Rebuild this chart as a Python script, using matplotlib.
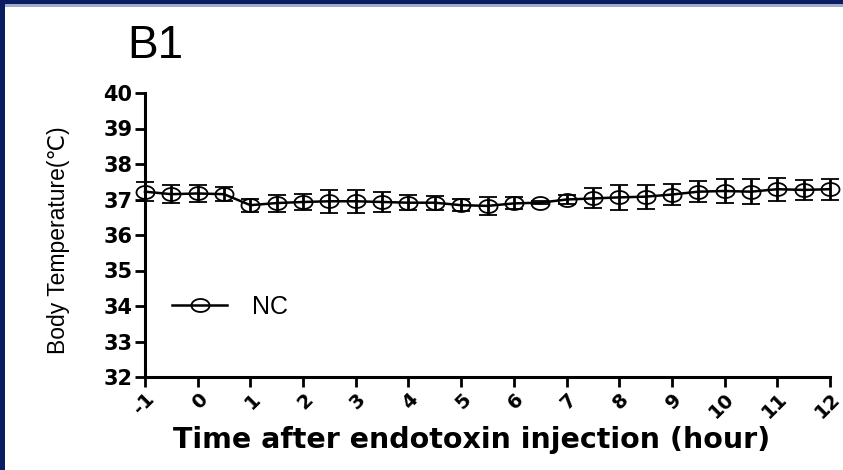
import numpy as np
import matplotlib
matplotlib.use('Agg')
import matplotlib.pyplot as plt
from matplotlib.path import Path
from matplotlib.patches import Rectangle
from matplotlib.transforms import ScaledTranslation

# ---- data ----
hours = [-1, -0.5, 0, 0.5, 1, 1.5, 2, 2.5, 3, 3.5, 4, 4.5, 5, 5.5, 6, 6.5,
         7, 7.5, 8, 8.5, 9, 9.5, 10, 10.5, 11, 11.5, 12]
temps = [37.22, 37.15, 37.17, 37.15, 36.84, 36.90, 36.93, 36.95, 36.95, 36.93,
         36.91, 36.91, 36.84, 36.82, 36.89, 36.91, 37.00, 37.03, 37.06, 37.08,
         37.14, 37.22, 37.24, 37.22, 37.29, 37.27, 37.29]
sem = [0.26, 0.25, 0.23, 0.20, 0.18, 0.24, 0.23, 0.32, 0.33, 0.27, 0.21, 0.20,
       0.17, 0.25, 0.17, 0.04, 0.14, 0.28, 0.36, 0.34, 0.30, 0.30, 0.33, 0.35,
       0.32, 0.28, 0.30]
xticks = list(range(-1, 13))
yticks = list(range(32, 41))
series_name = 'NC'
title = 'B1'
xlabel = 'Time after endotoxin injection (hour)'
ylabel = 'Body Temperature(\u2103)'

W, H = 843, 470
fig = plt.figure(figsize=(W / 100, H / 100), dpi=100)
fig.patch.set_facecolor('white')

ax = fig.add_axes([145 / W, 1 - 377 / H, (830 - 145) / W, (377 - 93) / H])

theta = np.linspace(0, 2 * np.pi, 60)
ell = Path(np.column_stack([np.cos(theta), 0.72 * np.sin(theta)]), closed=True)

cont = ax.errorbar(hours, temps, yerr=sem, fmt='-', color='black', lw=1.8,
                   marker=ell, ms=13, mfc='none', mec='black', mew=1.3,
                   ecolor='black', elinewidth=2.0, capsize=6.8, capthick=2.6,
                   zorder=3, clip_on=False)

ax.set_xlim(-1, 12)
ax.set_ylim(32, 40)
ax.set_xticks(xticks)
ax.set_yticks(yticks)
ax.set_xticklabels([str(t) for t in xticks], rotation=45, ha='right',
                   va='top', rotation_mode='anchor',
                   fontweight='bold', fontsize=14, family='DejaVu Sans')
offset = ScaledTranslation(9 / 100, -2 / 100, fig.dpi_scale_trans)
for lab in ax.get_xticklabels():
    lab.set_transform(lab.get_transform() + offset)
ax.set_yticklabels([str(t) for t in yticks], fontweight='bold', fontsize=15,
                   family='DejaVu Sans')
for s in ['top', 'right']:
    ax.spines[s].set_visible(False)
for s in ['left', 'bottom']:
    ax.spines[s].set_linewidth(2.2)
ax.tick_params(direction='out', length=7, width=2, pad=2)

leg = ax.legend([cont[0]], [series_name], loc='center left',
                bbox_to_anchor=(172 / W, 1 - 307 / H),
                bbox_transform=fig.transFigure, frameon=False,
                handlelength=2.2, handletextpad=1.0,
                borderpad=0, borderaxespad=0,
                prop={'family': 'Liberation Sans', 'size': 18})

fig.text(59 / W, 1 - 240 / H, ylabel, rotation=90, ha='center', va='center',
         fontsize=16.5, family=['Liberation Sans', 'DejaVu Sans'])
fig.text(472 / W, 1 - 440 / H, xlabel, ha='center', va='center',
         fontsize=20.5, fontweight='bold', family='DejaVu Sans')
fig.text(155 / W, 1 - 46 / H, title, ha='center', va='center',
         fontsize=33, family='Liberation Sans')

navy = '#0b1d62'
fig.patches.append(Rectangle((0, 1 - 7 / H), 1, 3 / H, transform=fig.transFigure,
                             facecolor='#a4abc9', edgecolor='none'))
fig.patches.append(Rectangle((0, 1 - 4 / H), 1, 4 / H, transform=fig.transFigure,
                             facecolor=navy, edgecolor='none'))
fig.patches.append(Rectangle((0, 0), 5 / W, 1, transform=fig.transFigure,
                             facecolor=navy, edgecolor='none'))

fig.savefig('out.png', dpi=100)
